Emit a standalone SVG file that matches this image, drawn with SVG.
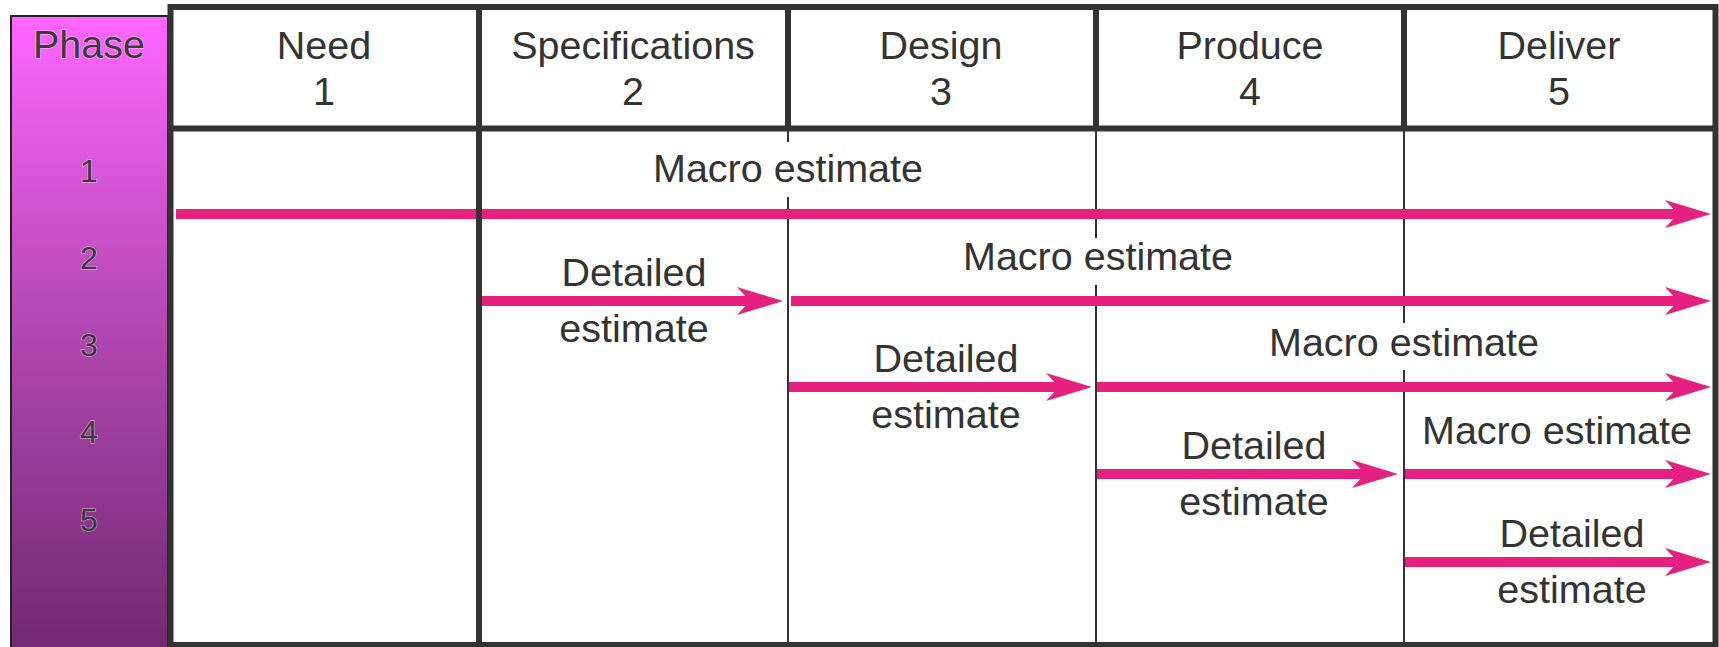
<svg xmlns="http://www.w3.org/2000/svg" width="1719" height="647" viewBox="0 0 1719 647">
  <style>
    .t { font-family: "Liberation Sans", Arial, sans-serif; font-size: 39.5px; fill: #333; text-anchor: middle; }
    .d { font-family: "Liberation Sans", Arial, sans-serif; font-size: 32px; fill: #3a3a3a; text-anchor: middle; stroke: #ffffff; stroke-opacity: 0.45; stroke-width: 1.5; paint-order: stroke; }
    .ph { font-family: "Liberation Sans", Arial, sans-serif; font-size: 39.5px; fill: #3a3a3a; text-anchor: middle; stroke: #ffffff; stroke-opacity: 0.45; stroke-width: 1.5; paint-order: stroke; }
    .thick { stroke: #333; stroke-width: 6; fill: none; }
    .thin { stroke: #333; stroke-width: 2; fill: none; }
    .arrow { stroke: #E6207F; stroke-width: 10; fill: none; marker-end: url(#ah); }
    .mask { fill: #ffffff; }
  </style>
  <defs>
    <linearGradient id="phaseGrad" x1="0" y1="0" x2="0" y2="1">
      <stop offset="0" stop-color="#FF66FF"/>
      <stop offset="0.5" stop-color="#B046B0"/>
      <stop offset="1" stop-color="#70296F"/>
    </linearGradient>
    <marker id="ah" viewBox="0 0 46 28" refX="13" refY="14" markerWidth="46" markerHeight="28" markerUnits="userSpaceOnUse" orient="auto">
      <path d="M46,14 L0,0 L13,14 L0,28 Z" fill="#E6207F"/>
    </marker>
  </defs>

  <rect x="0" y="0" width="1719" height="647" fill="#ffffff"/>

  <!-- Phase column -->
  <g id="phase-column">
    <rect x="11" y="16" width="157" height="640" fill="url(#phaseGrad)" stroke="#222" stroke-width="2"/>
    <text class="ph" x="89" y="58">Phase</text>
    <text class="d" x="89" y="182">1</text>
    <text class="d" x="89" y="269">2</text>
    <text class="d" x="89" y="356">3</text>
    <text class="d" x="89" y="443">4</text>
    <text class="d" x="89" y="531">5</text>
  </g>

  <!-- thin body grid lines -->
  <g id="grid-thin">
    <line class="thin" x1="788" y1="130" x2="788" y2="645"/>
    <line class="thin" x1="1096" y1="130" x2="1096" y2="645"/>
    <line class="thin" x1="1404" y1="130" x2="1404" y2="645"/>
  </g>

  <!-- estimate labels -->
  <g id="label-row1-macro">
    <rect class="mask" x="654" y="142" width="268" height="55"/>
    <text class="t" x="788" y="182">Macro estimate</text>
  </g>
  <g id="label-row2-detailed">
    <text class="t" x="634" y="286">Detailed</text>
    <text class="t" x="634" y="342">estimate</text>
  </g>
  <g id="label-row2-macro">
    <rect class="mask" x="964" y="238" width="268" height="47"/>
    <text class="t" x="1098" y="270">Macro estimate</text>
  </g>
  <g id="label-row3-detailed">
    <text class="t" x="946" y="372">Detailed</text>
    <text class="t" x="946" y="428">estimate</text>
  </g>
  <g id="label-row3-macro">
    <rect class="mask" x="1270" y="323" width="268" height="47"/>
    <text class="t" x="1404" y="356">Macro estimate</text>
  </g>
  <g id="label-row4-detailed">
    <text class="t" x="1254" y="459">Detailed</text>
    <text class="t" x="1254" y="515">estimate</text>
  </g>
  <g id="label-row4-macro">
    <text class="t" x="1557" y="444">Macro estimate</text>
  </g>
  <g id="label-row5-detailed">
    <text class="t" x="1572" y="547">Detailed</text>
    <text class="t" x="1572" y="603">estimate</text>
  </g>

  <!-- connectors -->
  <g id="connectors">
    <line class="arrow" x1="176" y1="214" x2="1678" y2="214"/>
    <line class="arrow" x1="482" y1="301" x2="750" y2="301"/>
    <line class="arrow" x1="791" y1="301" x2="1678" y2="301"/>
    <line class="arrow" x1="789" y1="387" x2="1059" y2="387"/>
    <line class="arrow" x1="1097" y1="387" x2="1678" y2="387"/>
    <line class="arrow" x1="1097" y1="474" x2="1365" y2="474"/>
    <line class="arrow" x1="1405" y1="474" x2="1678" y2="474"/>
    <line class="arrow" x1="1405" y1="562" x2="1678" y2="562"/>
  </g>

  <!-- thick frame lines -->
  <g id="grid-thick">
    <rect class="thick" x="170.5" y="7" width="1545" height="638"/>
    <line class="thick" x1="170" y1="128.5" x2="1716" y2="128.5"/>
    <line class="thick" x1="479" y1="7" x2="479" y2="645"/>
    <line class="thick" x1="788" y1="7" x2="788" y2="128"/>
    <line class="thick" x1="1096" y1="7" x2="1096" y2="128"/>
    <line class="thick" x1="1404" y1="7" x2="1404" y2="128"/>
  </g>

  <!-- header cells -->
  <g id="header-need">
    <text class="t" x="324" y="59">Need</text>
    <text class="t" x="324" y="105">1</text>
  </g>
  <g id="header-specifications">
    <text class="t" x="633" y="59">Specifications</text>
    <text class="t" x="633" y="105">2</text>
  </g>
  <g id="header-design">
    <text class="t" x="941" y="59">Design</text>
    <text class="t" x="941" y="105">3</text>
  </g>
  <g id="header-produce">
    <text class="t" x="1250" y="59">Produce</text>
    <text class="t" x="1250" y="105">4</text>
  </g>
  <g id="header-deliver">
    <text class="t" x="1559" y="59">Deliver</text>
    <text class="t" x="1559" y="105">5</text>
  </g>
</svg>
